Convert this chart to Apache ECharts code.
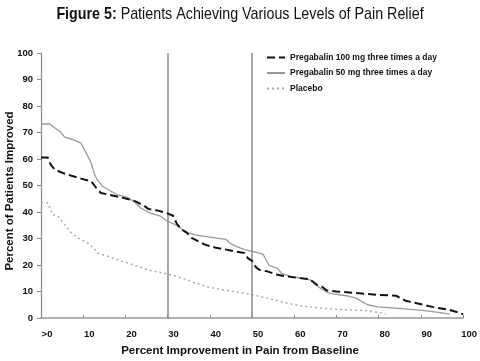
<!DOCTYPE html>
<html>
<head>
<meta charset="utf-8">
<script src="https://cdn.jsdelivr.net/npm/echarts@6/dist/echarts.min.js"></script>
<style>
html,body{margin:0;padding:0;background:#fff;}
#chart{width:480px;height:361px;}
</style>
</head>
<body>
<div id="chart"></div>
<script>
var titleBold = 'Figure 5:';
var titleRest = ' Patients Achieving Various Levels of Pain Relief';
var xAxisTitle = 'Percent Improvement in Pain from Baseline';
var yAxisTitle = 'Percent of Patients Improved';
var seriesNames = ['Pregabalin 100 mg three times a day', 'Pregabalin 50 mg three times a day', 'Placebo'];
var referenceLines = [30, 50];

var pregabalin100 = [[0,60.6],[1.6,60.6],[2.3,57.9],[3.3,56],[5.2,54.7],[7.2,53.7],[9.5,52.6],[11.9,51.6],[12.7,49.9],[13.4,48.4],[14.2,47.2],[16.2,46.5],[18.5,45.7],[20.5,44.9],[22.4,44],[24.4,42.4],[25.5,41.1],[27.5,40.6],[29.8,39.6],[31.3,38.6],[32.2,35.5],[33.4,33.3],[34.6,32.1],[35.7,30.2],[37.3,28.9],[38.8,27.7],[41.2,26.6],[43.9,25.8],[46.2,25.1],[48.2,24.5],[49,22.6],[50.1,21.4],[50.9,19.2],[51.7,18.2],[53.6,17.6],[56,16.3],[58.3,15.7],[61,15.1],[63.5,14.7],[64.5,13.6],[65.3,12.6],[66.5,11.9],[67.7,10.4],[70,10.0],[74.7,9.4],[79.4,8.8],[84.1,8.4],[85.2,7.5],[86.4,6.5],[89.5,5.4],[92.7,4.2],[96.6,3.1],[98.9,2.1],[100,1.4]];

var pregabalin50 = [[0,73.2],[2.1,73.2],[3.3,71.7],[4.5,70.4],[5.6,68.3],[7.6,67.3],[9.5,66.0],[10.3,63.5],[11.1,61],[11.9,58.5],[12.7,54.1],[13.3,52.2],[14.6,49.7],[16.2,48.2],[18.1,46.5],[20.1,45.7],[22,44],[23.6,41.5],[25.9,39.6],[28.3,38.4],[30,36.5],[31.8,35.2],[33.4,33.6],[34.9,32.1],[36.5,31.4],[39.6,30.6],[43.8,29.7],[44.7,28.3],[45.8,27.3],[48.2,25.8],[50.1,25.1],[52.6,24.1],[53.3,22],[54,19.9],[56,18.7],[57.1,16.7],[59.1,15.7],[61.4,15.1],[63.5,14.5],[64.5,13.8],[65.3,12.2],[67.7,9.7],[69.2,9.1],[72.3,8.4],[74.7,7.5],[75.9,6.3],[77.4,5.0],[79.8,4.2],[84.8,3.6],[90.3,2.9],[94.2,2.1],[96.8,1.5]];

var placebo = [[0,43.6],[1.6,43.4],[2.1,41.5],[2.7,39],[4.1,38.4],[5.6,35.2],[7.2,32.1],[8.75,30.2],[11.1,28.3],[12.7,26],[13.4,24.5],[15.8,23.3],[18.1,22],[20.1,21],[22.8,19.5],[25.9,17.9],[29.8,16.7],[33.4,15.1],[36.5,13.2],[39.6,11.7],[42.7,10.7],[45.8,10.0],[50.1,8.8],[53.6,7.5],[57.5,5.9],[61.4,4.6],[64.5,4.0],[67.7,3.5],[72.3,3.1],[77,2.8],[81.7,1.6]];

var chart = echarts.init(document.getElementById('chart'), null, {renderer: 'canvas'});
var sans = 'Liberation Sans, Arial, sans-serif';

chart.setOption({
  animation: false,
  backgroundColor: '#fff',
  legend: {
    orient: 'vertical',
    left: 266,
    top: 53,
    padding: 0,
    itemWidth: 18,
    itemHeight: 9,
    itemGap: 6.5,
    itemStyle: {color: 'rgba(0,0,0,0)', borderColor: 'rgba(0,0,0,0)', borderWidth: 0, opacity: 0},
    textStyle: {fontFamily: sans, fontWeight: 'bold', fontSize: 8.5, color: '#111'},
    data: seriesNames
  },
  grid: {left: 41, right: 12, top: 53, bottom: 43, containLabel: false},
  xAxis: {
    type: 'value',
    min: 0, max: 100, interval: 10,
    axisLine: {lineStyle: {color: '#999', width: 1.5}},
    axisTick: {inside: true, length: 3, lineStyle: {color: '#888'}},
    splitLine: {show: false},
    axisLabel: {
      margin: 11,
      fontFamily: sans, fontWeight: 'bold', fontSize: 9.5, color: '#111',
      padding: [0, 0, 0, 12],
      formatter: function (v) { return v === 0 ? '>0' : String(v); }
    }
  },
  yAxis: {
    type: 'value',
    min: 0, max: 100, interval: 10,
    axisLine: {show: true, lineStyle: {color: '#888', width: 1.2}},
    axisTick: {show: true, length: 4, lineStyle: {color: '#888'}},
    splitLine: {show: false},
    axisLabel: {margin: 8, fontFamily: sans, fontWeight: 'bold', fontSize: 9.5, color: '#111'}
  },
  graphic: [
    {
      type: 'text', x: 240, y: 14, scaleX: 0.84,
      style: {
        text: '{b|' + titleBold + '}{r|' + titleRest + '}',
        align: 'center', verticalAlign: 'middle',
        rich: {
          b: {font: 'bold 17px ' + sans, fill: '#111'},
          r: {font: '17px ' + sans, fill: '#111'}
        }
      }
    },
    {type: 'text', left: 'center', top: 345, style: {text: xAxisTitle, font: 'bold 11.5px ' + sans, fill: '#111'}},
    {type: 'text', x: 4, y: 191, rotation: Math.PI / 2, style: {text: yAxisTitle, font: 'bold 11.5px ' + sans, fill: '#111', align: 'center', verticalAlign: 'top'}}
  ],
  series: [
    {
      name: seriesNames[0], type: 'line', data: pregabalin100, symbol: 'none', z: 5,
      lineStyle: {color: '#111', width: 2, type: [8, 4]}, itemStyle: {color: '#111'},
      markLine: {
        silent: true, symbol: ['none', 'none'], label: {show: false},
        lineStyle: {color: '#888', width: 1.5, type: 'solid'},
        data: referenceLines.map(function (v) { return {xAxis: v}; })
      }
    },
    {
      name: seriesNames[1], type: 'line', data: pregabalin50, symbol: 'none', z: 4,
      lineStyle: {color: '#999', width: 1.3, type: 'solid'}, itemStyle: {color: '#999'}
    },
    {
      name: seriesNames[2], type: 'line', data: placebo, symbol: 'none', z: 3,
      lineStyle: {color: '#aaa', width: 1.5, type: [2, 3]}, itemStyle: {color: '#aaa'}
    }
  ]
});
</script>
</body>
</html>
